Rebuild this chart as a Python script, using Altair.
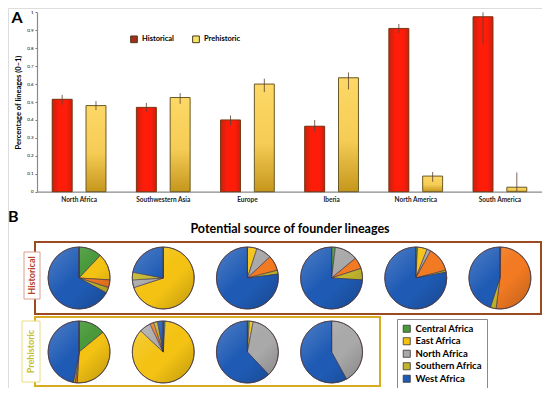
import altair as alt
import pandas as pd

# ---------------- data (panel A) ----------------
regions = ["North Africa", "Southwestern Asia", "Europe", "Iberia", "North America", "South America"]
periods = ["Historical", "Prehistoric"]
hist_val = [0.515, 0.47, 0.40, 0.365, 0.91, 0.975]
preh_val = [0.48, 0.525, 0.60, 0.635, 0.087, 0.025]
hist_lo = [0.485, 0.445, 0.37, 0.335, 0.885, 0.82]
hist_hi = [0.54, 0.495, 0.425, 0.40, 0.935, 1.0]
preh_lo = [0.455, 0.49, 0.555, 0.57, 0.055, 0.0]
preh_hi = [0.505, 0.55, 0.63, 0.665, 0.11, 0.107]
y_ticks = [0, 0.1, 0.2, 0.3, 0.4, 0.5, 0.6, 0.7, 0.8, 0.9, 1]

# ---------------- data (panel B) ----------------
cats = ["Central Africa", "East Africa", "North Africa", "Other", "Southern Africa", "West Africa"]
legend_cats = ["Central Africa", "East Africa", "North Africa", "Southern Africa", "West Africa"]
cat_colors = ["#4a9a3c", "#f3c213", "#a9a9a9", "#f27a22", "#c2b52c", "#1f5bb5"]

hist_central = [0.12, 0.0, 0.0, 0.02, 0.01, 0.005]
hist_east = [0.14, 0.70, 0.05, 0.0, 0.05, 0.0]
hist_north = [0.0, 0.04, 0.08, 0.12, 0.02, 0.0]
hist_other = [0.04, 0.0, 0.08, 0.06, 0.13, 0.515]
hist_southern = [0.03, 0.04, 0.02, 0.06, 0.01, 0.03]
hist_west = [0.67, 0.22, 0.77, 0.74, 0.78, 0.45]

preh_regions = regions[:4]
preh_central = [0.14, 0.01, 0.01, 0.0]
preh_east = [0.37, 0.86, 0.02, 0.0]
preh_north = [0.0, 0.06, 0.35, 0.42]
preh_other = [0.01, 0.02, 0.0, 0.0]
preh_southern = [0.01, 0.02, 0.0, 0.0]
preh_west = [0.47, 0.03, 0.62, 0.58]

# ---------------- tables ----------------
rows = []
for i, r in enumerate(regions):
    rows.append(dict(region=r, period="Historical", value=hist_val[i], lo=hist_lo[i], hi=hist_hi[i]))
    rows.append(dict(region=r, period="Prehistoric", value=preh_val[i], lo=preh_lo[i], hi=preh_hi[i]))
bars_df = pd.DataFrame(rows)

pie_rows = []
def add_pies(period, regs, series):
    for i, r in enumerate(regs):
        vals = [s[i] for s in series]
        tot = sum(vals)
        cum = 0.0
        for c, v in zip(cats, vals):
            if v <= 0:
                continue
            pie_rows.append(dict(region=r, period=period, category=c,
                                 start=cum / tot, end=(cum + v) / tot))
            cum += v
add_pies("Historical", regions, [hist_central, hist_east, hist_north, hist_other, hist_southern, hist_west])
add_pies("Prehistoric", preh_regions, [preh_central, preh_east, preh_north, preh_other, preh_southern, preh_west])
pie_df = pd.DataFrame(pie_rows)
centers_df = pie_df[["region", "period"]].drop_duplicates()

FONT = "Lato"
X0, X1 = 29, 534

# ---------------- panel A ----------------
x_axis = alt.Axis(title=None, labelAngle=0, labelFontSize=6.5, labelFontWeight="bold", labelFont=FONT,
                  labelColor="#222", ticks=False, labelPadding=5, domainColor="#8a8a8a", domainWidth=1.2,
                  offset=-(380 - 183.7))
y_axis = alt.Axis(title="Percentage of lineages (0\u20131)", values=y_ticks, format="~g",
                  labelFontSize=4.5, labelFont=FONT, tickSize=2, tickColor="#777",
                  domainColor="#8a8a8a", domainWidth=1.2, grid=False, offset=-X0,
                  titleFontSize=7.5, titleFontWeight="bold", titleFont=FONT,
                  titleX=-19, titleY=94, titleAngle=270, titleAlign="center", titleBaseline="middle")

xenc = alt.X("region:N", scale=alt.Scale(domain=regions, range=[X0, X1], paddingInner=0, paddingOuter=0), axis=x_axis)
xoff = alt.XOffset("period:N", scale=alt.Scale(domain=periods, paddingInner=0.41, paddingOuter=0.45))
yscale = alt.Scale(domain=[0, 1], range=[183.7, 4.3])

base = alt.Chart(bars_df)
legend_bars = base.mark_bar().encode(
    x=xenc, xOffset=xoff,
    y=alt.Y("value:Q", scale=yscale, axis=y_axis),
    color=alt.Color("period:N", scale=alt.Scale(domain=periods, range=["#a3301a", "#f4e46a"]),
                    legend=alt.Legend(title=None, orient="none", legendX=122, legendY=27, direction="horizontal",
                                      labelFontSize=7.5, labelFontWeight="bold", labelFont=FONT,
                                      symbolType="square", symbolSize=45, columnPadding=16,
                                      symbolStrokeColor="#4a3a1a", symbolStrokeWidth=1)),
)
hist_bars = base.transform_filter(alt.datum.period == "Historical").mark_bar(
    fill=alt.LinearGradient(gradient="linear", x1=0, x2=1, y1=0, y2=0,
                            stops=[alt.GradientStop(color="#c9200e", offset=0),
                                   alt.GradientStop(color="#ff1d0a", offset=0.35),
                                   alt.GradientStop(color="#ff1d0a", offset=0.7),
                                   alt.GradientStop(color="#d21c0c", offset=1)]),
    stroke="#7a3a18", strokeWidth=1,
).encode(x=xenc, xOffset=xoff, y=alt.Y("value:Q", scale=yscale, axis=y_axis))
preh_bars = base.transform_filter(alt.datum.period == "Prehistoric").mark_bar(
    fill=alt.LinearGradient(gradient="linear", x1=0, x2=0, y1=0, y2=1,
                            stops=[alt.GradientStop(color="#fdd866", offset=0),
                                   alt.GradientStop(color="#f5cc55", offset=0.55),
                                   alt.GradientStop(color="#c6961c", offset=1)]),
    stroke="#6a5a2a", strokeWidth=1,
).encode(x=xenc, xOffset=xoff, y=alt.Y("value:Q", scale=yscale, axis=y_axis))
err = base.mark_rule(color="#5a4030", strokeWidth=0.8).encode(
    x=xenc, xOffset=xoff, y=alt.Y("lo:Q", scale=yscale, axis=y_axis), y2="hi:Q")

panel_a = alt.layer(legend_bars, hist_bars, preh_bars, err)

# ---------------- panel B ----------------
px = alt.X("region:N", scale=alt.Scale(type="point", domain=regions, range=[X0, X1], padding=0.5), axis=None)
py = alt.Y("period:N", scale=alt.Scale(type="point", domain=periods, range=[270, 344], padding=0), axis=None)

pies = alt.Chart(pie_df).mark_arc(radius=31, stroke="#3b2f4a", strokeWidth=0.6).encode(
    x=px, y=py,
    theta=alt.Theta("start:Q", stack=None, scale=alt.Scale(domain=[0, 1], range=[0, 6.283185])),
    theta2="end:Q",
    color=alt.Color("category:N", scale=alt.Scale(domain=cats, range=cat_colors),
                    legend=alt.Legend(title=None, orient="none", legendX=389, legendY=311, values=legend_cats,
                                      labelFontSize=9.5, labelFontWeight="bold", labelFont=FONT,
                                      symbolType="square", symbolSize=50, rowPadding=1.5,
                                      symbolStrokeColor="#333", symbolStrokeWidth=0.8,
                                      fillColor="white", strokeColor="#8a8a8a", padding=5)),
)
shade = alt.Chart(centers_df).mark_arc(
    radius=31, theta=0, theta2=6.283185, stroke="#4a3a40", strokeWidth=0.8,
    fill=alt.LinearGradient(gradient="linear", x1=0, y1=0, x2=1, y2=1,
                            stops=[alt.GradientStop(color="rgba(255,255,255,0.22)", offset=0),
                                   alt.GradientStop(color="rgba(255,255,255,0)", offset=0.45),
                                   alt.GradientStop(color="rgba(0,0,0,0)", offset=0.6),
                                   alt.GradientStop(color="rgba(0,0,0,0.22)", offset=1)]),
).encode(x=px, y=py)
panel_b = alt.layer(pies, shade)

one = pd.DataFrame({"k": [0]})
def box(x, x2, y, y2, stroke, width, fill="white", fill_opacity=0.0):
    return alt.Chart(one).mark_rect(stroke=stroke, strokeWidth=width, fill=fill, fillOpacity=fill_opacity).encode(
        x=alt.value(x), x2=alt.value(x2), y=alt.value(y), y2=alt.value(y2))

def label(text, x, y, size, color="black", angle=0, align="left", baseline="alphabetic"):
    return alt.Chart(one).mark_text(text=text, fontSize=size, fontWeight="bold", font=FONT, color=color,
                                    angle=angle, align=align, baseline=baseline).encode(
        x=alt.value(x), y=alt.value(y))

hist_box = box(27, 533, 234, 306, "#9b4a22", 2)
preh_box = box(27, 372, 309, 378, "#d8ac22", 2)
hist_tag = box(16, 32, 244, 291, "#d8a090", 1, fill_opacity=1)
preh_tag = box(14, 32, 313, 374, "#e8dc80", 1, fill_opacity=1)

texts = [
    label("A", 9, 10, 16, align="center", baseline="middle"),
    label("B", 0, 214, 16),
    label("Potential source of founder lineages", 282, 225, 12.5, align="center"),
    label("Historical", 24, 267.5, 9, color="#b5402a", angle=270, align="center", baseline="middle"),
    label("Prehistoric", 23, 343.5, 9, color="#c4c02c", angle=270, align="center", baseline="middle"),
]

chart = alt.layer(panel_a, hist_box, preh_box, hist_tag, preh_tag, panel_b, *texts).resolve_scale(
    x="independent", y="independent", color="independent"
).properties(
    width=534, height=380, padding=0, autosize="none", background="white"
).configure_view(stroke=None).configure(font=FONT)

chart.save("out.html", embed_options={"renderer": "svg", "actions": False})
